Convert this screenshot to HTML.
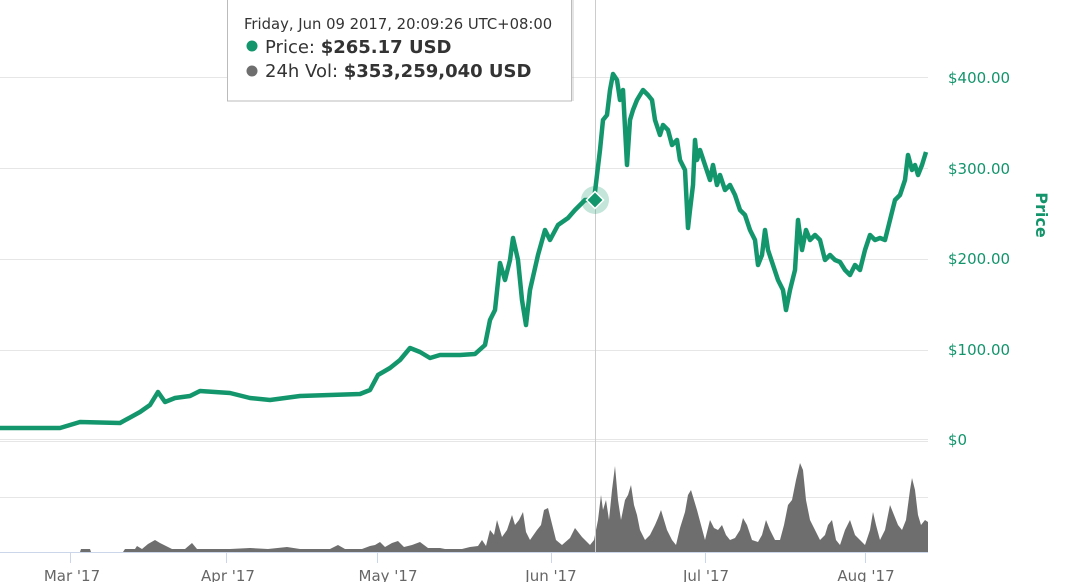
<!DOCTYPE html>
<html><head><meta charset="utf-8"><style>
html,body{margin:0;padding:0;background:#fff;width:1074px;height:582px;overflow:hidden}
svg{display:block;font-family:"DejaVu Sans","Liberation Sans",sans-serif}
</style></head><body>
<svg width="1074" height="582" viewBox="0 0 1074 582">
<g stroke="#e6e6e6" stroke-width="1">
<line x1="0" y1="77.5" x2="928" y2="77.5"/>
<line x1="0" y1="168.5" x2="928" y2="168.5"/>
<line x1="0" y1="259.5" x2="928" y2="259.5"/>
<line x1="0" y1="350.5" x2="928" y2="350.5"/>
<line x1="0" y1="439.5" x2="928" y2="439.5"/>
<line x1="0" y1="441.5" x2="928" y2="441.5"/>
<line x1="0" y1="497.5" x2="928" y2="497.5"/>
</g>
<line x1="0" y1="552.5" x2="928" y2="552.5" stroke="#ccd6eb"/>
<g stroke="#ccd6eb"><line x1="70.5" y1="552" x2="70.5" y2="563"/><line x1="226.5" y1="552" x2="226.5" y2="563"/><line x1="377.5" y1="552" x2="377.5" y2="563"/><line x1="551.5" y1="552" x2="551.5" y2="563"/><line x1="705.5" y1="552" x2="705.5" y2="563"/><line x1="865.5" y1="552" x2="865.5" y2="563"/></g>
<g fill="#666" font-size="15" text-anchor="middle">
<text x="72" y="581">Mar '17</text><text x="228" y="581">Apr '17</text><text x="388" y="581">May '17</text><text x="551" y="581">Jun '17</text><text x="706" y="581">Jul '17</text><text x="866" y="581">Aug '17</text></g>
<g fill="#13946b" font-size="15"><text x="948" y="83">$400.00</text><text x="948" y="174">$300.00</text><text x="948" y="264">$200.00</text><text x="948" y="355">$100.00</text><text x="948" y="445">$0</text></g>
<text transform="translate(1036,215) rotate(90)" fill="#13946b" font-size="16" font-weight="bold" text-anchor="middle">Price</text>
<polygon fill="#6e6e6e" points="0,552 80,552 81,549 90,549 91,552 123,552 125,549 135,549 137,546 142,549 148,544 155,540 160,543 166,546 172,549 185,549 192,543 197,549 230,549 250,548 268,549 287,547 300,549 330,549 338,545 345,549 362,549 370,546 375,545 380,542 385,547 392,543 398,541 404,547 412,545 420,542 428,548 440,548 445,549 462,549 470,547 478,546 482,540 486,546 490,530 494,535 497,520 502,537 507,530 512,515 515,525 519,520 523,512 526,532 530,540 537,530 541,525 544,510 548,508 551,520 556,540 562,545 570,538 575,528 582,537 590,545 594,540 598,520 601,495 603,510 606,500 609,520 612,490 615,466 618,500 621,520 625,500 628,495 631,485 634,505 637,515 640,530 645,540 650,535 655,525 658,518 661,510 664,520 667,530 672,540 676,545 680,528 685,512 688,495 691,490 694,500 697,510 701,525 705,540 710,520 714,528 718,530 722,525 726,535 730,540 735,538 740,530 743,518 747,525 752,540 758,542 762,535 766,520 770,530 775,540 780,540 784,525 788,505 792,500 796,480 800,463 803,470 806,500 810,520 815,530 820,540 825,535 828,525 832,520 836,540 840,545 845,530 850,520 855,535 860,540 865,545 870,530 873,512 876,525 880,540 885,530 890,505 894,515 898,525 902,530 906,520 910,490 912,478 915,490 918,515 921,525 925,520 928,522 928,552"/>
<line x1="595.5" y1="0" x2="595.5" y2="552" stroke="#cccccc"/>
<polyline fill="none" stroke="#13966c" stroke-width="4.5" stroke-linejoin="round" points="0,428 60,428 80,422 120,423 140,412 150,405 158,392 165,402 175,398 190,396 200,391 230,393 250,398 270,400 300,396 330,395 360,394 370,390 378,375 390,368 400,360 410,348 420,352 430,358 440,355 460,355 475,354 485,345 490,320 495,310 500,263 505,280 510,260 513,238 518,260 522,300 526,325 530,290 538,255 545,230 550,240 558,225 568,218 575,210 585,200 594,200 600,150 603,120 607,115 610,90 613,74 617,80 620,100 623,90 627,165 630,120 633,110 637,100 640,95 643,90 648,95 652,100 655,120 660,135 663,125 668,130 672,145 677,140 680,160 685,170 688,228 690,210 693,185 695,140 697,160 700,150 705,165 710,180 713,165 717,185 720,175 725,190 730,185 735,195 740,210 745,215 750,230 755,240 758,265 762,255 765,230 768,250 773,265 778,280 783,290 786,310 790,290 795,270 798,220 802,250 806,230 810,240 815,235 820,240 825,260 830,255 835,260 840,262 845,270 850,275 855,265 860,270 865,250 870,235 875,240 880,238 885,240 890,220 895,200 900,195 905,180 908,155 912,170 915,165 918,175 922,165 926,152"/>
<circle cx="595" cy="200" r="14" fill="#13966c" opacity="0.25"/>
<rect x="589" y="194" width="12" height="12" fill="#13966c" stroke="#fff" stroke-width="1.5" transform="rotate(45 595 200)"/>
<rect x="230" y="-5" width="344" height="106" fill="#999" opacity="0.25"/>
<rect x="227.5" y="-5" width="344" height="106" fill="#fff" stroke="#bbb"/>
<text x="244" y="29" fill="#333" font-size="14.8">Friday, Jun 09 2017, 20:09:26 UTC+08:00</text>
<circle cx="252" cy="46" r="5.5" fill="#13966c"/>
<text x="265" y="53" fill="#333" font-size="18">Price: <tspan font-weight="bold">$265.17 USD</tspan></text>
<circle cx="252" cy="71" r="5.5" fill="#6e6e6e"/>
<text x="265" y="77" fill="#333" font-size="18">24h Vol: <tspan font-weight="bold">$353,259,040 USD</tspan></text>
</svg>
</body></html>
